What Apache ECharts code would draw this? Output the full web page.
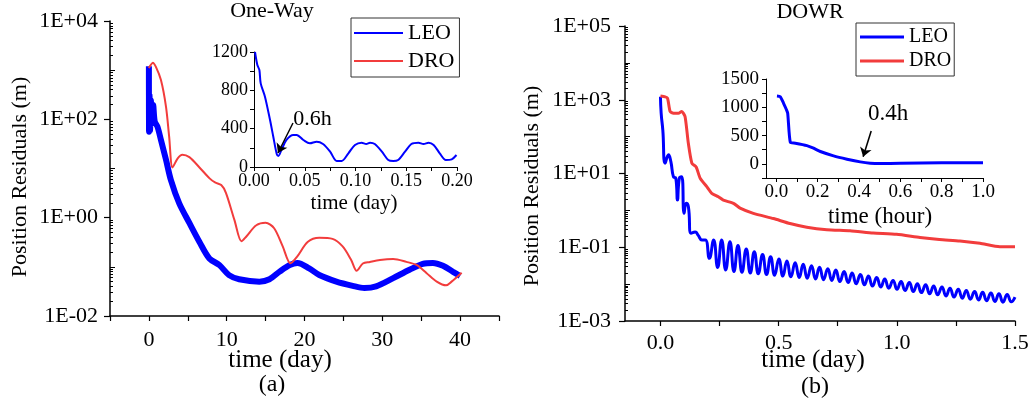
<!DOCTYPE html>
<html><head><meta charset="utf-8">
<script src="https://cdn.jsdelivr.net/npm/echarts@6/dist/echarts.min.js"></script>
<style>html,body{margin:0;padding:0;background:#fff}#c{width:1034px;height:406px}</style>
</head><body><div id="c"></div>
<script>
const FONT = 'Liberation Serif';
// ---------- (a) One-Way main panel (time in days, residual in m) ----------
const owLeoX = [0, 0.02, 0.08, 0.15, 0.25, 0.4, 0.55, 0.75, 1.1, 1.55, 2.2, 2.83, 3.9, 5.2, 6.5, 7.77, 9.05, 10.3, 11.6, 14.2, 15.5, 16.8, 18.1, 19.1, 20.6, 21.9, 24.1, 26.2, 27.7, 29.2, 31.4, 33.5, 35.2, 36.5, 37.8, 39.1, 40.0];
const owLeoY = [1200, 56, 316, 60, 245, 83, 195, 90, 71, 38, 15, 5.8, 1.95, 0.78, 0.32, 0.148, 0.109, 0.068, 0.056, 0.050, 0.056, 0.080, 0.109, 0.12, 0.093, 0.068, 0.050, 0.041, 0.037, 0.040, 0.059, 0.087, 0.115, 0.12, 0.105, 0.079, 0.065];
const owDroX = [0, 0.2, 0.5, 0.9, 1.55, 2.2, 2.6, 3.04, 3.7, 4.3, 5.2, 6.5, 7.8, 8.5, 9.3, 9.9, 11.0, 11.9, 12.5, 13.8, 15.0, 16.1, 17.2, 18.2, 19.1, 20.4, 21.9, 23.6, 24.9, 26.0, 26.7, 27.5, 28.4, 29.7, 31.4, 33.1, 34.4, 35.7, 37.0, 38.2, 38.9, 40.2];
const owDroY = [1100, 1250, 1420, 1170, 630, 180, 45, 10.5, 16, 19, 17, 10.5, 6.3, 5.2, 4.6, 3.2, 0.89, 0.33, 0.41, 0.70, 0.79, 0.61, 0.26, 0.118, 0.165, 0.32, 0.39, 0.37, 0.26, 0.138, 0.083, 0.117, 0.126, 0.138, 0.144, 0.126, 0.109, 0.074, 0.050, 0.042, 0.050, 0.076];
// ---------- (a) inset: LEO first 0.2 day, linear ----------
const owInsX = [0.001, 0.0033, 0.0053, 0.0066, 0.0108, 0.0158, 0.019, 0.0224, 0.024, 0.027, 0.032, 0.0387, 0.042, 0.0486, 0.055, 0.0617, 0.068, 0.075, 0.0815, 0.0863, 0.093, 0.0995, 0.106, 0.1106, 0.1143, 0.119, 0.126, 0.1323, 0.1372, 0.142, 0.1488, 0.155, 0.162, 0.167, 0.172, 0.177, 0.183, 0.189, 0.1948, 0.1995];
const owInsY = [1200, 1064, 1012, 873, 734, 490, 316, 136, 115, 177, 282, 334, 334, 282, 247, 264, 240, 160, 63, 63, 143, 230, 254, 240, 254, 240, 160, 73, 63, 73, 160, 240, 254, 240, 254, 230, 143, 73, 80, 125];
// ---------- (b) DOWR main panel ----------
const dwLeoX = [0, 0.003, 0.01, 0.02, 0.034, 0.044, 0.055, 0.065, 0.072, 0.08, 0.09, 0.1, 0.109, 0.118, 0.13, 0.147, 0.16, 0.175,
  0.19, 0.207, 0.225, 0.242, 0.259, 0.276, 0.294, 0.311, 0.328, 0.345, 0.363, 0.380, 0.397, 0.414, 0.432, 0.449, 0.466, 0.483, 0.501, 0.518, 0.535, 0.552, 0.570, 0.587, 0.604, 0.621, 0.639, 0.656, 0.673, 0.690, 0.708, 0.725, 0.742, 0.759, 0.777, 0.794, 0.811, 0.828, 0.846, 0.863, 0.880, 0.897, 0.915, 0.932, 0.949, 0.966, 0.984, 1.001, 1.018, 1.035, 1.053, 1.070, 1.087, 1.104, 1.122, 1.139, 1.156, 1.173, 1.191, 1.208, 1.225, 1.242, 1.260, 1.277, 1.294, 1.311, 1.329, 1.346, 1.363, 1.380, 1.398, 1.415, 1.432, 1.449, 1.467, 1.484, 1.5];
const dwLeoY = [1200, 430, 150, 19, 32, 21, 8.1, 7.4, 1.9, 7.4, 8.1, 0.83, 1.55, 1.27, 0.24, 0.26, 0.21, 0.158,
  0.158, 0.0501, 0.158, 0.0282, 0.158, 0.0240, 0.141, 0.0219, 0.112, 0.0209, 0.0891, 0.0200, 0.0759, 0.0191, 0.0631, 0.0182, 0.0550, 0.0174, 0.0479, 0.0166, 0.0427, 0.0158, 0.0380, 0.0151, 0.0347, 0.0145, 0.0316, 0.0138, 0.0288, 0.0132, 0.0263, 0.0126, 0.0240, 0.0117, 0.0219, 0.0110, 0.0200, 0.0102, 0.0182, 0.00955, 0.0166, 0.00891, 0.0151, 0.00832, 0.0138, 0.00776, 0.0126, 0.00724, 0.0117, 0.00676, 0.0110, 0.00631, 0.0102, 0.00589, 0.00955, 0.00550, 0.00891, 0.00513, 0.00832, 0.00479, 0.00776, 0.00447, 0.00724, 0.00417, 0.00676, 0.00389, 0.00631, 0.00372, 0.00603, 0.00355, 0.00575, 0.00339, 0.00550, 0.00324, 0.00525, 0.00331, 0.00447];
const dwDroX = [0.0, 0.02, 0.03, 0.041, 0.055, 0.076, 0.09, 0.104, 0.118, 0.133, 0.151, 0.168, 0.196, 0.217, 0.245, 0.266, 0.309, 0.337, 0.393, 0.478, 0.548, 0.619, 0.704, 0.802, 0.90, 0.999, 1.098, 1.18, 1.267, 1.352, 1.436, 1.50];
const dwDroY = [1260, 1200, 1100, 480, 430, 430, 480, 350, 66, 19, 15, 7.4, 4.4, 2.9, 2.34, 1.9, 1.55, 1.15, 0.83, 0.60, 0.44, 0.35, 0.30, 0.28, 0.245, 0.225, 0.185, 0.163, 0.148, 0.128, 0.103, 0.103];
// ---------- (b) inset: LEO first hour, linear ----------
const dwInsX = [0.003, 0.019, 0.035, 0.048, 0.055, 0.068, 0.092, 0.148, 0.18, 0.213, 0.277, 0.342, 0.406, 0.454, 0.502, 0.6, 0.8, 1.0];
const dwInsY = [1200, 1188, 1071, 965, 895, 376, 365, 323, 277, 218, 141, 83, 35, 12, 5, 10, 20, 18];
// ---------- tick values ----------
const owXTicks = [-5, 0, 5, 10, 15, 20, 25, 30, 35, 40, 45];
const owXLabels = [0, 10, 20, 30, 40];
const owInsXTicks = [0, 0.025, 0.05, 0.075, 0.1, 0.125, 0.15, 0.175, 0.2];
const owInsXLabels = [0, 0.05, 0.1, 0.15, 0.2];
const owInsYTicks = [0, 200, 400, 600, 800, 1000, 1200];
const owInsYLabels = [0, 400, 800, 1200];
const dwXTicks = [0, 0.25, 0.5, 0.75, 1, 1.25, 1.5];
const dwXLabels = [0, 0.5, 1, 1.5];
const dwInsXTicks = [0, 0.1, 0.2, 0.3, 0.4, 0.5, 0.6, 0.7, 0.8, 0.9, 1.0];
const dwInsXLabels = [0, 0.2, 0.4, 0.6, 0.8, 1.0];
const dwInsYTicks = [-250, 0, 250, 500, 750, 1000, 1250, 1500];
const dwInsYLabels = [0, 500, 1000, 1500];

const zip = (xs, ys) => xs.map((x, i) => [x, ys[i]]);
const BLUE = '#0000FF', RED = '#F23C3C';

function logLabel(v) {
  const e = Math.round(Math.log10(v));
  const a = Math.abs(e);
  return '1E' + (e < 0 ? '-' : '+') + (a < 10 ? '0' : '') + a;
}
function minorLog(lo, hi) { // positions in exponent space
  const out = [];
  for (let e = lo; e < hi; e++) for (let k = 2; k <= 9; k++) out.push(e + Math.log10(k));
  return out;
}
function oddDecades(lo, hi, majorStart) {
  const out = [];
  for (let e = lo; e <= hi; e++) if ((e - majorStart) % 2 !== 0) out.push(e);
  return out;
}
const axLine = (w) => ({ show: true, onZero: false, lineStyle: { color: '#000', width: w } });
const lbl = (size, margin, extra) => Object.assign({ fontFamily: FONT, fontSize: size, color: '#000', margin: margin,
  textStyle: { fontFamily: FONT } }, extra || {});

const chart = echarts.init(document.getElementById('c'), null, { renderer: 'canvas' });
const option = {
  animation: false,
  backgroundColor: '#fff',
  textStyle: { fontFamily: FONT, color: '#000' },
  grid: [
    { left: 110, top: 21, width: 389, height: 295 },
    { left: 254, top: 52, width: 203, height: 115 },
    { left: 625, top: 26, width: 390, height: 295 },
    { left: 766, top: 79, width: 217, height: 99 }
  ],
  xAxis: [
    { gridIndex: 0, type: 'value', min: -5, max: 45, interval: 5, axisLine: axLine(1.5),
      axisTick: { show: true, length: 5, lineStyle: { color: '#000', width: 1.2 }, customValues: owXTicks },
      axisLabel: lbl(22, 13, { customValues: owXLabels, formatter: v => String(v) }), splitLine: { show: false } },
    { gridIndex: 1, type: 'value', min: 0, max: 0.2, axisLine: axLine(1),
      axisTick: { show: true, length: 4, lineStyle: { color: '#000' }, customValues: owInsXTicks },
      axisLabel: lbl(18, 5, { customValues: owInsXLabels, formatter: v => v.toFixed(2) }), splitLine: { show: false } },
    { gridIndex: 2, type: 'value', min: -0.15, max: 1.5, axisLine: axLine(1.5),
      axisTick: { show: true, length: 5, lineStyle: { color: '#000', width: 1.2 }, customValues: dwXTicks },
      axisLabel: lbl(22, 11, { customValues: dwXLabels, formatter: v => v.toFixed(1) }), splitLine: { show: false } },
    { gridIndex: 3, type: 'value', min: -0.05, max: 1.0, axisLine: axLine(1),
      axisTick: { show: true, length: 4, lineStyle: { color: '#000' }, customValues: dwInsXTicks },
      axisLabel: lbl(19, 5, { customValues: dwInsXLabels, formatter: v => v.toFixed(1) }), splitLine: { show: false } }
  ],
  yAxis: [
    { gridIndex: 0, type: 'log', logBase: 10, min: 0.01, max: 10000, interval: 2, position: 'left', axisLine: axLine(1.5),
      axisTick: { show: true, length: 6, lineStyle: { color: '#000', width: 1.2 } },
      axisLabel: lbl(22, 12, { formatter: v => { const e = Math.round(Math.log10(v)); return (e % 2 === 0) ? logLabel(v) : ''; } }),
      splitLine: { show: false } },
    { gridIndex: 0, type: 'value', min: -2, max: 4, position: 'left', axisLine: { show: false, onZero: false },
      axisTick: { show: true, inside: true, length: 3, lineStyle: { color: '#000' }, customValues: minorLog(-2, 4) },
      axisLabel: { show: false }, splitLine: { show: false } },
    { gridIndex: 0, type: 'value', min: -2, max: 4, position: 'left', axisLine: { show: false, onZero: false },
      axisTick: { show: true, inside: true, length: 5, lineStyle: { color: '#000' }, customValues: oddDecades(-2, 4, -2) },
      axisLabel: { show: false }, splitLine: { show: false } },
    { gridIndex: 1, type: 'value', min: 0, max: 1200, position: 'left', axisLine: axLine(1),
      axisTick: { show: true, length: 4, lineStyle: { color: '#000' }, customValues: owInsYTicks },
      axisLabel: lbl(18, 6, { customValues: owInsYLabels, formatter: v => String(v) }), splitLine: { show: false } },
    { gridIndex: 2, type: 'log', logBase: 10, min: 0.001, max: 100000, interval: 2, position: 'left', axisLine: axLine(1.5),
      axisTick: { show: true, length: 6, lineStyle: { color: '#000', width: 1.2 } },
      axisLabel: lbl(22, 14, { formatter: v => { const e = Math.round(Math.log10(v)); return ((e + 3) % 2 === 0) ? logLabel(v) : ''; } }),
      splitLine: { show: false } },
    { gridIndex: 2, type: 'value', min: -3, max: 5, position: 'left', axisLine: { show: false, onZero: false },
      axisTick: { show: true, inside: true, length: 3, lineStyle: { color: '#000' }, customValues: minorLog(-3, 5) },
      axisLabel: { show: false }, splitLine: { show: false } },
    { gridIndex: 2, type: 'value', min: -3, max: 5, position: 'left', axisLine: { show: false, onZero: false },
      axisTick: { show: true, inside: true, length: 5, lineStyle: { color: '#000' }, customValues: oddDecades(-3, 5, -3) },
      axisLabel: { show: false }, splitLine: { show: false } },
    { gridIndex: 3, type: 'value', min: -250, max: 1500, position: 'left', axisLine: axLine(1),
      axisTick: { show: true, length: 4, lineStyle: { color: '#000' }, customValues: dwInsYTicks },
      axisLabel: lbl(19, 7, { customValues: dwInsYLabels, formatter: v => String(v) }), splitLine: { show: false } }
  ],
  legend: [
    { data: ['LEO', 'DRO'], left: 351, top: 18, orient: 'vertical', icon: 'rect', itemWidth: 49, itemHeight: 2,
      itemGap: 6, padding: [4, 5, 5, 3], borderColor: '#333', borderWidth: 1, selectedMode: false,
      textStyle: { fontFamily: FONT, fontSize: 22, color: '#000' } },
    { data: ['LEO', 'DRO'], left: 856, top: 23, orient: 'vertical', icon: 'rect', itemWidth: 44, itemHeight: 3,
      itemGap: 4, padding: [4, 3, 5, 4], borderColor: '#333', borderWidth: 1, selectedMode: false,
      textStyle: { fontFamily: FONT, fontSize: 20, color: '#000' } }
  ],
  series: [
    { name: 'LEO', type: 'line', xAxisIndex: 0, yAxisIndex: 0, data: zip(owLeoX, owLeoY), showSymbol: false, smooth: 0.3,
      lineStyle: { color: BLUE, width: 6 }, itemStyle: { color: BLUE }, z: 3 },
    { name: 'DRO', type: 'line', xAxisIndex: 0, yAxisIndex: 0, data: zip(owDroX, owDroY), showSymbol: false, smooth: 0.3,
      lineStyle: { color: RED, width: 2 }, itemStyle: { color: RED }, z: 4 },
    { name: 'LEO (0-0.2 day)', type: 'line', xAxisIndex: 1, yAxisIndex: 3, data: zip(owInsX, owInsY), showSymbol: false, smooth: 0.3,
      lineStyle: { color: BLUE, width: 2 }, itemStyle: { color: BLUE },
      markLine: { silent: true, symbol: ['none', 'arrow'], symbolSize: 9, label: { show: false },
        lineStyle: { color: '#000', width: 1.5, type: 'solid' },
        data: [[{ coord: [0.0384, 459] }, { coord: [0.0236, 146] }]] },
      markPoint: { silent: true, symbol: 'rect', symbolSize: 1, itemStyle: { color: 'rgba(0,0,0,0)' },
        label: { show: true, position: 'inside', formatter: '0.6h', fontFamily: FONT, fontSize: 22, color: '#000' },
        data: [{ coord: [0.0576, 501] }] } },
    { name: 'LEO', type: 'line', xAxisIndex: 2, yAxisIndex: 4, data: zip(dwLeoX, dwLeoY), showSymbol: false, smooth: 0.5,
      lineStyle: { color: BLUE, width: 3 }, itemStyle: { color: BLUE }, z: 3 },
    { name: 'DRO', type: 'line', xAxisIndex: 2, yAxisIndex: 4, data: zip(dwDroX, dwDroY), showSymbol: false, smooth: 0.2,
      lineStyle: { color: RED, width: 3 }, itemStyle: { color: RED }, z: 4 },
    { name: 'LEO (0-1 hour)', type: 'line', xAxisIndex: 3, yAxisIndex: 7, data: zip(dwInsX, dwInsY), showSymbol: false, smooth: 0.2,
      lineStyle: { color: BLUE, width: 3 }, itemStyle: { color: BLUE },
      markLine: { silent: true, symbol: ['none', 'arrow'], symbolSize: 9, label: { show: false },
        lineStyle: { color: '#000', width: 1.5, type: 'solid' },
        data: [[{ coord: [0.459, 582] }, { coord: [0.420, 124] }]] },
      markPoint: { silent: true, symbol: 'rect', symbolSize: 1, itemStyle: { color: 'rgba(0,0,0,0)' },
        label: { show: true, position: 'inside', formatter: '0.4h', fontFamily: FONT, fontSize: 23, color: '#000' },
        data: [{ coord: [0.541, 882] }] } }
  ],
  graphic: [
    { type: 'text', x: 272, y: 11, style: { text: 'One-Way', fontFamily: FONT, fontSize: 22, fill: '#000', align: 'center', verticalAlign: 'middle' } },
    { type: 'text', x: 810, y: 12, style: { text: 'DOWR', fontFamily: FONT, fontSize: 22, fill: '#000', align: 'center', verticalAlign: 'middle' } },
    { type: 'text', x: 280, y: 360, style: { text: 'time (day)', fontFamily: FONT, fontSize: 25, fill: '#000', align: 'center', verticalAlign: 'middle' } },
    { type: 'text', x: 813, y: 360, style: { text: 'time (day)', fontFamily: FONT, fontSize: 25, fill: '#000', align: 'center', verticalAlign: 'middle' } },
    { type: 'text', x: 272, y: 385, style: { text: '(a)', fontFamily: FONT, fontSize: 24, fill: '#000', align: 'center', verticalAlign: 'middle' } },
    { type: 'text', x: 815, y: 387, style: { text: '(b)', fontFamily: FONT, fontSize: 24, fill: '#000', align: 'center', verticalAlign: 'middle' } },
    { type: 'text', x: 20, y: 177, rotation: Math.PI / 2, style: { text: 'Position Residuals (m)', fontFamily: FONT, fontSize: 22, fill: '#000', align: 'center', verticalAlign: 'middle' } },
    { type: 'text', x: 532, y: 186, rotation: Math.PI / 2, style: { text: 'Position Residuals (m)', fontFamily: FONT, fontSize: 22, fill: '#000', align: 'center', verticalAlign: 'middle' } },
    { type: 'text', x: 354, y: 203, style: { text: 'time (day)', fontFamily: FONT, fontSize: 21, fill: '#000', align: 'center', verticalAlign: 'middle' } },
    { type: 'text', x: 880, y: 217, style: { text: 'time (hour)', fontFamily: FONT, fontSize: 23, fill: '#000', align: 'center', verticalAlign: 'middle' } }
  ]
};
chart.setOption(option);
</script>
</body></html>
